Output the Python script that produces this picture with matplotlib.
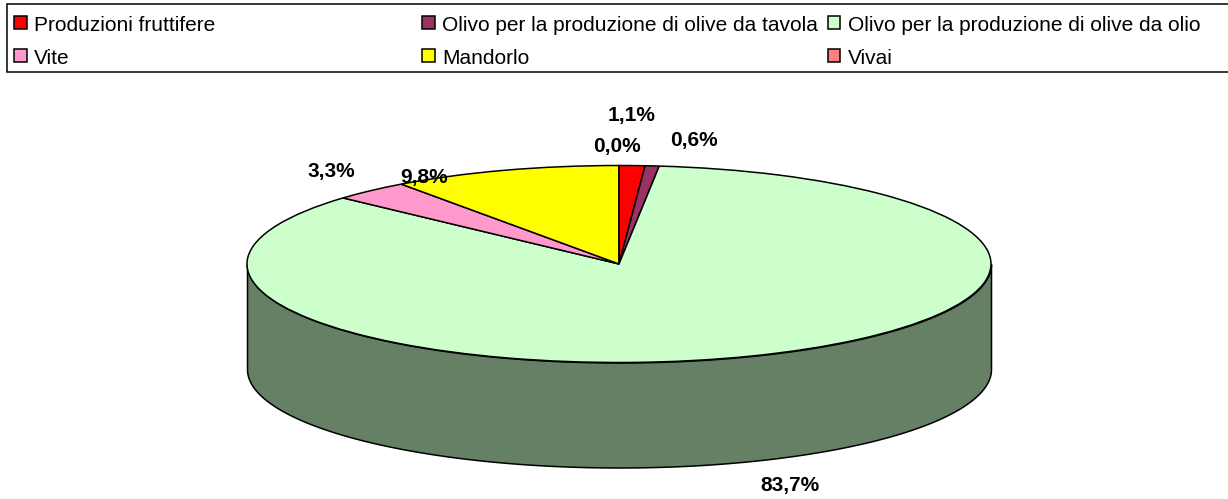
import numpy as np
import matplotlib
matplotlib.use('Agg')
import matplotlib.pyplot as plt
from matplotlib.patches import Rectangle

plt.rcParams['font.family'] = ['Liberation Sans', 'DejaVu Sans']

# Data
categories = ['Produzioni fruttifere', 'Olivo per la produzione di olive da tavola',
              'Olivo per la produzione di olive da olio', 'Vite', 'Mandorlo', 'Vivai']
values = [1.1, 0.6, 83.7, 3.3, 9.8, 0.0]
value_labels = ['1,1%', '0,6%', '83,7%', '3,3%', '9,8%', '0,0%']
colors = ['#FF0000', '#993366', '#CCFFCC', '#FF99CC', '#FFFF00', '#FF8080']
wall_color = '#668066'

# Layout in image pixels
W, H = 1228, 499
cx, cy = 619, 264
rx, ry = 372, 98.5
depth = 105 / ry
label_pos = [(632, 116), (694, 140), (790, 486), (331, 172), (424, 178), (617, 146)]
legend_x = [14, 422, 828]
legend_y = [22.5, 55.5]

fig = plt.figure(figsize=(W / 100, H / 100), dpi=100)
ax = fig.add_axes([0, 0, 1, 1])

# Top of the pie, squashed into an ellipse by the axes limits
ax.pie(values, colors=colors, startangle=90, counterclock=False, radius=1,
       wedgeprops={'edgecolor': 'black', 'linewidth': 1.1, 'zorder': 3})
ax.set_aspect('auto')
ax.set_xlim(-cx / rx, (W - cx) / rx)
ax.set_ylim((cy - H) / ry, cy / ry)

# Side wall of the front half
t = np.linspace(np.pi, 2 * np.pi, 300)
ax.fill_between(np.cos(t), np.sin(t), np.sin(t) - depth, facecolor=wall_color,
                edgecolor='black', linewidth=1.1, zorder=2)


def px(x, y):
    return x / W, 1 - y / H


# Value labels
for pos, txt in zip(label_pos, value_labels):
    fig.text(*px(*pos), txt, ha='center', va='center', fontsize=15,
             fontweight='bold', color='black', zorder=10)

# Legend box, runs off the right edge
fig.add_artist(Rectangle(px(6.5, 72), (W + 10) / W, 68 / H, transform=fig.transFigure,
                         facecolor='white', edgecolor='black', linewidth=1.1))
for i, (name, col) in enumerate(zip(categories, colors)):
    x = legend_x[i % 3]
    y = legend_y[i // 3]
    fig.add_artist(Rectangle(px(x, y + 6.25), 12.5 / W, 12.5 / H, transform=fig.transFigure,
                             facecolor=col, edgecolor='black', linewidth=1.1))
    fig.text(*px(x + 20, y + 8.5), name, ha='left', va='baseline', fontsize=15, color='black')

plt.savefig('out.png', dpi=100)
